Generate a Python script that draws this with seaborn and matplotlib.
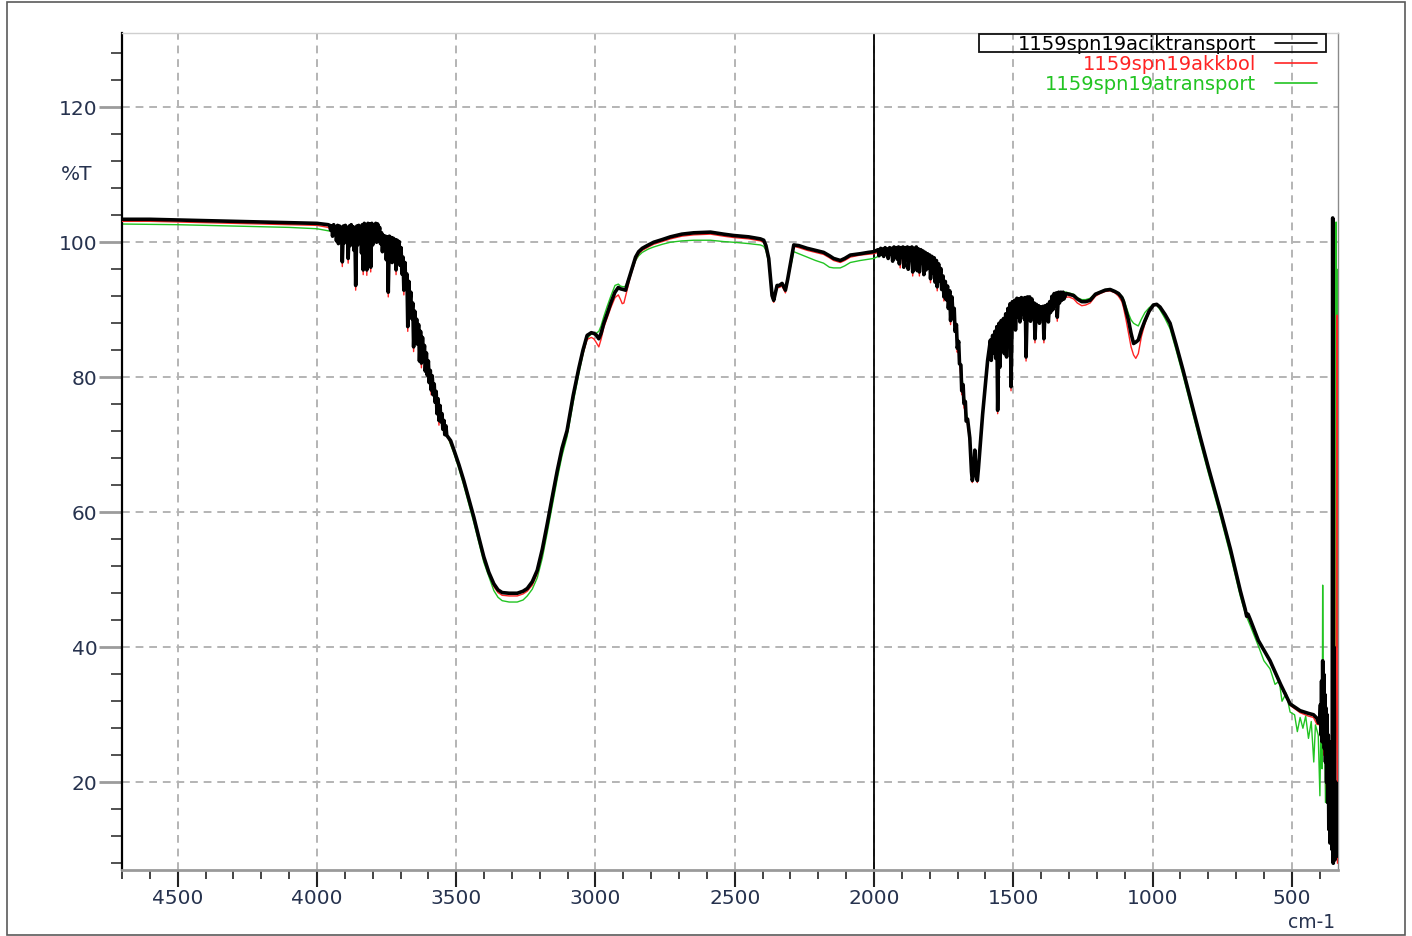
import matplotlib
matplotlib.use("Agg")
import matplotlib.pyplot as plt
import matplotlib.transforms as mtransforms
from matplotlib.lines import Line2D
from matplotlib.patches import Rectangle
from matplotlib.ticker import FixedLocator, MultipleLocator
import pandas as pd
import seaborn as sns

# ---------------------------------------------------------------- data
SERIES_NAMES = ["1159spn19aciktransport", "1159spn19akkbol", "1159spn19atransport"]
X_TICKS = [4500, 4000, 3500, 3000, 2500, 2000, 1500, 1000, 500]
Y_TICKS = [20, 40, 60, 80, 100, 120]

# 1159spn19aciktransport (wavenumber cm-1, %T)
WN_ACIK = [
    4700, 4600, 4500, 4400, 4300, 4200, 4100, 4000, 3960, 3954,
    3951, 3947, 3944, 3940, 3937, 3933, 3930, 3926, 3923, 3919,
    3916, 3912, 3909, 3905, 3902, 3898, 3895, 3891, 3888, 3884,
    3881, 3877, 3874, 3870, 3867, 3864, 3861, 3857, 3854, 3850,
    3847, 3843, 3840, 3837, 3834, 3830, 3827, 3824, 3821, 3817,
    3814, 3810, 3807, 3803, 3800, 3796, 3793, 3789, 3786, 3782,
    3779, 3775, 3772, 3768, 3765, 3761, 3758, 3754, 3751, 3747,
    3744, 3740, 3737, 3733, 3730, 3726, 3723, 3719, 3716, 3712,
    3709, 3705, 3702, 3698, 3695, 3691, 3688, 3684, 3681, 3677,
    3674, 3670, 3667, 3663, 3660, 3656, 3653, 3649, 3646, 3642,
    3639, 3635, 3632, 3628, 3625, 3621, 3618, 3614, 3611, 3607,
    3604, 3600, 3597, 3593, 3590, 3586, 3583, 3579, 3576, 3572,
    3569, 3565, 3562, 3558, 3555, 3551, 3548, 3544, 3541, 3537,
    3534, 3520, 3508, 3490, 3473, 3455, 3437, 3419, 3401, 3383,
    3365, 3350, 3335, 3310, 3281, 3260, 3245, 3227, 3209, 3191,
    3173, 3155, 3137, 3120, 3102, 3080, 3060, 3045, 3030, 3015,
    3006, 2998, 2988, 2980, 2970, 2958, 2945, 2930, 2918, 2910,
    2900, 2892, 2883, 2874, 2865, 2856, 2845, 2832, 2810, 2791,
    2760, 2731, 2690, 2647, 2587, 2540, 2504, 2450, 2408, 2396,
    2388, 2378, 2370, 2366, 2360, 2354, 2348, 2340, 2330, 2318,
    2310, 2303, 2295, 2288, 2270, 2240, 2210, 2181, 2160, 2145,
    2121, 2105, 2085, 2049, 2020, 2001, 1990, 1985, 1982, 1976,
    1973, 1968, 1965, 1960, 1957, 1952, 1949, 1944, 1941, 1936,
    1933, 1928, 1925, 1920, 1917, 1912, 1909, 1904, 1901, 1896,
    1893, 1888, 1885, 1880, 1877, 1872, 1869, 1864, 1861, 1856,
    1853, 1848, 1845, 1840, 1837, 1832, 1829, 1824, 1821, 1816,
    1813, 1808, 1805, 1800, 1797, 1792, 1789, 1784, 1781, 1776,
    1773, 1768, 1765, 1760, 1757, 1752, 1749, 1744, 1741, 1736,
    1733, 1728, 1725, 1720, 1717, 1712, 1709, 1704, 1701, 1696,
    1693, 1688, 1685, 1680, 1677, 1672, 1669, 1664, 1656, 1650,
    1647, 1643, 1638, 1634, 1629, 1625, 1618, 1610, 1600, 1592,
    1582, 1579, 1574, 1571, 1566, 1563, 1559, 1556, 1551, 1548,
    1543, 1540, 1535, 1532, 1527, 1524, 1519, 1516, 1511, 1508,
    1503, 1500, 1495, 1492, 1487, 1484, 1479, 1476, 1471, 1468,
    1463, 1460, 1457, 1454, 1449, 1446, 1441, 1438, 1433, 1430,
    1425, 1422, 1417, 1414, 1409, 1406, 1401, 1398, 1393, 1390,
    1385, 1382, 1377, 1374, 1369, 1366, 1361, 1358, 1353, 1350,
    1345, 1342, 1337, 1334, 1329, 1326, 1321, 1318, 1310, 1300,
    1283, 1270, 1254, 1240, 1224, 1205, 1188, 1170, 1152, 1135,
    1122, 1110, 1104, 1095, 1086, 1077, 1068, 1060, 1051, 1040,
    1027, 1012, 997, 985, 973, 955, 937, 915, 890, 860,
    829, 800, 757, 720, 685, 667, 662, 657, 649, 620,
    578, 540, 506, 470, 440, 422, 410, 404, 400, 397,
    395, 393, 391, 389, 387, 385, 383, 381, 379, 377,
    375, 373, 371, 369, 367, 365, 363, 361, 359, 357,
    355, 353, 351, 348, 345, 342, 339, 337,
]
T_ACIK = [
    103.4, 103.4, 103.3, 103.2, 103.1, 103.0, 102.9, 102.8, 102.6, 102.5,
    101.8, 102.4, 100.9, 102.6, 101.5, 102.3, 100.2, 102.5, 99.8, 102.4,
    100.6, 102.2, 97.1, 102.4, 99.9, 102.5, 100.3, 102.1, 97.6, 102.4,
    99.5, 102.6, 100.4, 102.3, 98.8, 102.0, 93.6, 102.4, 99.6, 102.5,
    100.1, 102.2, 98.4, 102.6, 95.9, 102.8, 99.9, 102.5, 95.9, 102.8,
    100.3, 102.7, 96.3, 102.8, 99.6, 102.6, 100.5, 102.8, 100.0, 102.7,
    100.9, 102.2, 99.8, 101.4, 98.6, 101.0, 99.2, 100.9, 97.4, 100.8,
    92.6, 100.9, 98.3, 100.7, 97.0, 100.6, 98.1, 100.4, 95.9, 100.3,
    97.6, 100.1, 96.6, 99.2, 95.3, 97.8, 92.9, 97.0, 93.6, 95.3,
    87.5, 94.2, 90.8, 92.6, 88.7, 91.0, 84.5, 89.8, 86.2, 88.6,
    84.9, 87.8, 82.4, 86.8, 82.1, 85.9, 82.6, 84.7, 80.9, 83.6,
    80.3, 82.4, 79.2, 81.0, 78.1, 80.2, 77.4, 79.0, 76.3, 77.9,
    74.6, 76.8, 73.6, 75.8, 73.4, 74.6, 72.3, 73.6, 71.5, 72.8,
    71.4, 70.6, 69.2, 67.0, 64.7, 62.0, 59.3, 56.3, 53.4, 51.1,
    49.4, 48.5, 48.1, 48.0, 48.0, 48.3, 48.7, 49.7, 51.4, 54.5,
    58.3, 62.3, 66.2, 69.5, 72.1, 77.3, 81.3, 84.0, 86.2, 86.6,
    86.5, 86.3, 85.7, 86.5, 88.0, 89.4, 91.0, 92.6, 93.3, 93.1,
    93.0, 92.9, 94.2, 95.4, 96.6, 97.8, 98.6, 99.1, 99.6, 100.0,
    100.4, 100.8, 101.2, 101.4, 101.5, 101.2, 101.0, 100.8, 100.5, 100.3,
    99.5, 97.6, 94.0, 92.1, 91.4, 92.5, 93.6, 93.6, 93.9, 92.9,
    94.5, 96.1, 98.0, 99.6, 99.5, 99.1, 98.8, 98.5, 98.0, 97.6,
    97.3, 97.6, 98.1, 98.3, 98.5, 98.6, 98.8, 98.9, 98.0, 99.1,
    98.2, 99.0, 97.9, 99.2, 98.4, 99.0, 97.6, 99.2, 98.3, 99.1,
    97.2, 99.3, 98.1, 99.2, 97.5, 99.3, 96.8, 99.2, 97.9, 99.3,
    96.3, 99.2, 97.4, 99.3, 96.0, 99.2, 97.6, 99.3, 95.6, 99.1,
    97.0, 99.3, 95.8, 99.0, 95.6, 98.9, 96.9, 98.7, 95.2, 98.5,
    95.9, 98.3, 96.2, 98.1, 94.6, 97.9, 95.5, 97.7, 94.1, 97.3,
    93.4, 96.8, 94.3, 96.1, 93.0, 95.0, 91.9, 94.2, 91.5, 93.5,
    90.2, 92.8, 88.4, 91.9, 89.5, 90.2, 86.8, 87.8, 84.3, 85.3,
    82.0, 81.8, 78.0, 78.9, 76.1, 76.4, 73.5, 73.8, 71.0, 66.0,
    64.7, 65.5, 69.2, 66.0, 64.7, 66.5, 70.2, 74.5, 79.0, 82.5,
    85.5, 82.5, 86.2, 83.6, 86.8, 82.8, 87.5, 75.1, 88.0, 81.5,
    88.4, 84.2, 88.7, 83.5, 89.4, 83.0, 90.2, 86.4, 90.9, 78.6,
    91.2, 87.6, 91.4, 87.0, 91.7, 89.0, 91.6, 88.2, 91.8, 89.4,
    91.7, 88.6, 91.8, 83.0, 91.9, 89.0, 91.9, 88.3, 91.6, 89.6,
    91.0, 85.7, 90.8, 88.7, 90.6, 88.0, 90.4, 88.9, 90.5, 85.7,
    90.6, 89.1, 90.8, 88.2, 91.2, 89.6, 92.0, 90.0, 92.4, 90.6,
    92.5, 88.9, 92.6, 91.0, 92.6, 91.4, 92.6, 91.6, 92.4, 92.3,
    92.1, 91.6, 91.2, 91.2, 91.4, 92.3, 92.6, 92.9, 93.0, 92.7,
    92.4, 91.8, 91.2, 89.8, 88.4, 86.5, 85.0, 85.2, 85.5, 87.0,
    88.4, 89.8, 90.7, 90.8, 90.4, 89.3, 88.0, 84.8, 81.0, 76.2,
    71.2, 66.7, 60.3, 54.5, 48.4, 45.6, 44.6, 44.9, 44.1, 41.0,
    38.0, 34.5, 31.6, 30.6, 30.2, 30.0, 29.5, 28.8, 29.0, 31.5,
    27.0, 35.0, 26.0, 38.0, 28.0, 36.0, 25.0, 33.0, 23.0, 31.0,
    20.0, 30.0, 17.0, 27.0, 13.0, 24.0, 11.0, 21.0, 14.0, 26.0,
    10.0, 103.6, 8.0, 40.0, 8.5, 20.0, 9.0, 12.0,
]

# 1159spn19akkbol
WN_AKKBOL = [
    4700, 4600, 4500, 4300, 4100, 4000, 3960,
    3940, 3912, 3909, 3906, 3891, 3888, 3885, 3864, 3861, 3858,
    3837, 3834, 3831, 3824, 3821, 3818, 3810, 3807, 3804, 3780,
    3765, 3750, 3747, 3744, 3741, 3719, 3716, 3713, 3698, 3691,
    3688, 3685, 3677, 3674, 3671, 3656, 3653, 3650, 3628, 3625,
    3622, 3593, 3590, 3587, 3565, 3562, 3559, 3537, 3520,
    3508, 3490, 3473, 3437, 3401, 3365, 3350, 3335, 3310, 3281,
    3260, 3245, 3227, 3209, 3191, 3173, 3155, 3137, 3120, 3102,
    3080, 3060, 3045, 3030, 3015, 3006, 2998, 2988, 2980, 2970,
    2958, 2945, 2930, 2918, 2910, 2904, 2898, 2892, 2883, 2874,
    2865, 2856, 2845, 2832, 2810, 2791, 2760, 2731, 2690, 2647,
    2587, 2540, 2504, 2450, 2408, 2396, 2388, 2378, 2370, 2366,
    2360, 2354, 2348, 2340, 2330, 2318, 2310, 2303, 2295, 2288,
    2270, 2240, 2210, 2181, 2160, 2145, 2121, 2105, 2085, 2049,
    2001, 1985,
    1950, 1909, 1906, 1903, 1864, 1861, 1858, 1840, 1837, 1834,
    1800, 1797, 1794, 1776, 1773, 1770, 1752, 1749, 1746, 1728,
    1725, 1722, 1704, 1701, 1698, 1688, 1685, 1680, 1677, 1672,
    1664, 1656, 1650, 1647, 1643, 1638, 1634, 1629, 1625, 1618,
    1610, 1600, 1588, 1576, 1559, 1556, 1553, 1535, 1511, 1508,
    1505, 1490, 1457, 1454, 1451, 1425, 1422, 1419, 1393, 1390,
    1387, 1361, 1345, 1342, 1339, 1321,
    1300, 1283, 1270, 1254, 1240, 1224, 1205, 1188, 1170, 1152,
    1135, 1122, 1110, 1104, 1095, 1086, 1077, 1068, 1060, 1051,
    1040, 1027, 1012, 997, 985, 973, 955, 937, 915, 890,
    860, 829, 800, 757, 720, 685, 667, 662, 657, 649,
    620, 578, 540, 506, 470, 440, 422, 410, 400,
    395, 390, 385, 380, 375, 370, 365, 360, 355, 350,
    345, 341, 338, 336,
]
T_AKKBOL = [
    103.1, 103.1, 103.0, 102.8, 102.6, 102.5, 102.2,
    101.5, 101.2, 96.4, 101.2, 101.0, 96.9, 101.0, 101.0, 92.9, 101.0,
    101.5, 95.2, 101.5, 101.5, 95.1, 101.5, 101.5, 95.6, 101.5, 101.4,
    100.0, 99.6, 99.0, 91.9, 99.0, 99.2, 95.2, 99.0, 98.0, 96.5,
    92.2, 95.5, 93.5, 86.8, 92.5, 89.5, 83.8, 88.5, 85.0, 81.4,
    84.5, 79.5, 77.4, 79.0, 75.0, 72.9, 74.5, 71.8, 70.2,
    68.9, 66.7, 64.4, 59.0, 53.1, 49.0, 48.1, 47.7, 47.6, 47.6,
    47.9, 48.3, 49.2, 50.9, 54.0, 57.9, 62.0, 65.9, 69.2, 71.8,
    77.0, 81.0, 83.5, 85.6, 85.9, 85.7, 85.2, 84.5, 85.6, 87.4,
    88.8, 90.3, 91.8, 92.2, 91.5, 90.9, 91.0, 92.0, 93.5, 95.0,
    96.2, 97.4, 98.3, 98.8, 99.3, 99.7, 100.1, 100.5, 100.9, 101.1,
    101.2, 100.9, 100.7, 100.5, 100.2, 100.0, 99.2, 97.3, 93.7, 91.8,
    91.1, 92.2, 93.3, 93.3, 93.5, 92.5, 94.2, 95.8, 97.7, 99.4,
    99.2, 98.8, 98.5, 98.2, 97.7, 97.3, 97.0, 97.3, 97.8, 98.1,
    98.3, 98.5,
    98.2, 98.0, 96.2, 98.0, 98.0, 95.0, 97.8, 97.6, 95.0, 97.5,
    96.8, 94.0, 96.6, 95.8, 92.8, 95.5, 93.5, 91.3, 93.0, 91.0,
    87.8, 90.5, 86.0, 83.7, 84.5, 80.0, 77.4, 77.5, 75.5, 75.0,
    73.0, 70.5, 65.7, 64.4, 65.2, 68.9, 65.7, 64.4, 66.2, 69.9,
    74.2, 78.7, 83.0, 84.0, 85.5, 74.6, 85.5, 87.0, 88.5, 78.0,
    88.5, 89.5, 90.0, 82.4, 90.0, 89.5, 85.1, 89.5, 89.0, 85.1,
    89.0, 90.5, 91.0, 88.3, 91.0, 91.8,
    91.9, 91.6, 91.0, 90.6, 90.7, 91.0, 92.0, 92.4, 92.7, 92.8,
    92.5, 92.0, 91.2, 90.3, 88.5, 86.5, 84.5, 83.3, 82.8, 83.5,
    86.0, 88.0, 89.6, 90.6, 90.7, 90.3, 89.2, 87.9, 84.6, 80.8,
    76.0, 71.0, 66.5, 60.1, 54.2, 48.1, 45.8, 44.4, 44.6, 43.9,
    41.0, 37.8, 34.3, 31.4, 30.3, 29.8, 29.6, 28.6, 28.5,
    26.0, 31.0, 24.0, 29.0, 19.0, 24.0, 12.0, 18.0, 10.0, 14.0,
    9.0, 30.0, 89.2, 8.0,
]

# 1159spn19atransport
WN_ATRANSPORT = [
    4700, 4500, 4300, 4100, 4000, 3960, 3900, 3850, 3800, 3770,
    3750, 3720, 3700, 3690, 3675, 3660, 3640, 3620, 3600, 3580,
    3560, 3540, 3520, 3508, 3490, 3473, 3437, 3401, 3365, 3350,
    3335, 3310, 3281, 3260, 3245, 3227, 3209, 3191, 3173, 3155,
    3137, 3120, 3102, 3080, 3060, 3045, 3030, 3015, 3006, 2998,
    2988, 2980, 2970, 2958, 2945, 2930, 2918, 2910, 2900, 2892,
    2883, 2874, 2865, 2856, 2845, 2832, 2810, 2791, 2760, 2731,
    2690, 2647, 2587, 2540, 2504, 2450, 2408, 2396, 2388, 2378,
    2370, 2366, 2360, 2354, 2348, 2340, 2330, 2318, 2310, 2303,
    2295, 2288, 2270, 2240, 2210, 2181, 2160, 2145, 2121, 2105,
    2085, 2049, 2001, 1985, 1950, 1900, 1850, 1800, 1776, 1752,
    1728, 1704, 1688, 1672, 1664, 1656, 1650, 1647, 1643, 1638,
    1634, 1629, 1625, 1618, 1610, 1600, 1588, 1570, 1550, 1530,
    1510, 1490, 1460, 1430, 1400, 1380, 1361, 1340, 1321, 1300,
    1283, 1270, 1254, 1240, 1224, 1205, 1188, 1170, 1152, 1135,
    1122, 1110, 1104, 1095, 1086, 1077, 1068, 1060, 1051, 1040,
    1027, 1012, 997, 985, 973, 955, 937, 915, 890, 860,
    829, 800, 757, 720, 685, 667, 649, 620, 600, 578,
    560, 545, 535, 520, 506, 490, 480, 470, 460, 450,
    440, 430, 421, 415, 405, 399, 395, 391, 389, 386,
    383, 379, 375, 370, 365, 360, 352, 345, 341, 339,
    337, 335,
]
T_ATRANSPORT = [
    102.7, 102.6, 102.4, 102.2, 102.0, 101.7, 101.3, 101.2, 101.4, 101.0,
    99.8, 99.3, 98.6, 96.5, 93.5, 90.0, 86.8, 84.0, 81.2, 78.5,
    75.2, 72.4, 70.0, 68.7, 66.4, 64.0, 58.5, 52.6, 48.4, 47.4,
    46.9, 46.7, 46.7, 47.0, 47.6, 48.6, 50.3, 53.2, 57.0, 61.0,
    65.0, 68.4, 71.2, 76.3, 80.5, 83.4, 85.8, 86.4, 86.6, 86.5,
    86.8, 87.6, 89.0, 90.5, 92.0, 93.6, 93.8, 93.5, 93.4, 93.5,
    94.5, 95.4, 96.3, 97.3, 98.0, 98.5, 99.0, 99.3, 99.7, 100.0,
    100.2, 100.3, 100.3, 100.1, 100.0, 99.8, 99.6, 99.4, 98.8, 97.0,
    93.6, 91.8, 91.2, 92.3, 93.4, 93.4, 93.7, 92.8, 94.3, 95.8,
    97.2, 98.6, 98.3, 97.8, 97.3, 96.9, 96.3, 96.2, 96.2, 96.5,
    97.0, 97.3, 97.6, 97.9, 98.4, 98.6, 98.8, 97.8, 96.6, 94.3,
    92.0, 87.2, 81.2, 75.9, 73.5, 70.8, 66.0, 64.9, 65.7, 69.2,
    66.2, 64.9, 66.7, 70.3, 74.8, 79.2, 83.6, 85.8, 87.6, 88.8,
    90.2, 90.8, 91.0, 90.8, 89.8, 90.0, 91.4, 92.3, 92.7, 92.5,
    92.3, 91.8, 91.5, 91.5, 91.7, 92.4, 92.7, 93.0, 93.0, 92.8,
    92.5, 92.0, 91.6, 90.5, 89.4, 88.5, 88.0, 87.8, 87.6, 88.6,
    89.6, 90.3, 90.8, 90.7, 90.0, 88.7, 87.2, 84.0, 80.2, 75.4,
    70.4, 65.9, 59.5, 53.6, 47.6, 45.0, 43.2, 40.2, 38.0, 36.8,
    34.5, 35.0, 32.0, 33.2, 30.4, 30.0, 27.5, 29.6, 28.0, 29.8,
    26.5, 29.0, 23.0, 28.5, 27.0, 18.0, 30.0, 22.0, 49.2, 25.0,
    35.0, 17.0, 28.0, 20.0, 26.0, 15.0, 25.0, 12.0, 103.0, 60.0,
    96.0, 40.0,
]

# ---------------------------------------------------------------- style
sns.set_style("white")
plt.rcParams["font.family"] = ["DejaVu Sans"]

LABEL_COLOR = "#26324e"
TICK_FONT = 14.5
COLORS = {
    "1159spn19aciktransport": "#000000",
    "1159spn19akkbol": "#ff2424",
    "1159spn19atransport": "#22c422",
}
WIDTHS = {
    "1159spn19aciktransport": 2.6,
    "1159spn19akkbol": 1.0,
    "1159spn19atransport": 1.0,
}

frames = {
    "1159spn19aciktransport": pd.DataFrame({"wn": WN_ACIK, "T": T_ACIK}),
    "1159spn19akkbol": pd.DataFrame({"wn": WN_AKKBOL, "T": T_AKKBOL}),
    "1159spn19atransport": pd.DataFrame({"wn": WN_ATRANSPORT, "T": T_ATRANSPORT}),
}

fig = plt.figure(figsize=(14.12, 9.36), dpi=100)
ax = fig.add_axes([122 / 1412, 66 / 936, 1216 / 1412, 837 / 936])

# grid and the solid reference line at 2000 cm-1
ax.set_axisbelow(True)
ax.grid(True, which="major", color="#b4b4b4", linestyle=(0, (4, 3)), linewidth=1.4)
ax.axvline(2000, color="black", lw=1.3, zorder=1.5)

# draw back to front: green, red, black on top
for order, name in enumerate(reversed(SERIES_NAMES)):
    sns.lineplot(data=frames[name], x="wn", y="T", sort=False, estimator=None,
                 color=COLORS[name], lw=WIDTHS[name], ax=ax, legend=False,
                 zorder=2 + order)

ax.set_xlim(4700, 334)
ax.set_ylim(7, 131)
ax.set_xlabel("")
ax.set_ylabel("")

ax.xaxis.set_major_locator(FixedLocator(X_TICKS))
ax.xaxis.set_minor_locator(MultipleLocator(100))
ax.yaxis.set_major_locator(FixedLocator(Y_TICKS))
ax.yaxis.set_minor_locator(MultipleLocator(4))
ax.set_xticklabels([str(v) for v in X_TICKS])
ax.set_yticklabels([str(v) for v in Y_TICKS])

ax.tick_params(axis="both", which="both", direction="out", bottom=True, left=True,
               top=False, right=False)
ax.tick_params(axis="y", which="major", length=16.5, width=2.0, color="#9c9c9c",
               pad=1.0, labelsize=TICK_FONT, labelcolor=LABEL_COLOR)
ax.tick_params(axis="y", which="minor", length=8, width=1.2, color="#333333")
ax.tick_params(axis="x", which="major", length=12, width=1.5, color="#222222",
               pad=1.5, labelsize=TICK_FONT, labelcolor=LABEL_COLOR)
ax.tick_params(axis="x", which="minor", length=6.5, width=1.2, color="#222222")

for side, color, lw in [("left", "#000000", 1.6), ("bottom", "#9a9a9a", 2.0),
                        ("top", "#cfcfcf", 1.0), ("right", "#8a8a8a", 1.0)]:
    ax.spines[side].set_visible(True)
    ax.spines[side].set_color(color)
    ax.spines[side].set_linewidth(lw)

# axis captions
trans = mtransforms.blended_transform_factory(ax.transAxes, ax.transData)
ax.text(-0.0247, 110, "%T", transform=trans, ha="right", va="center",
        fontsize=TICK_FONT, color=LABEL_COLOR)
ax.text(0.9975, -0.0510, "cm-1", transform=ax.transAxes, ha="right", va="top",
        fontsize=13.5, color=LABEL_COLOR)

# legend: text first, line sample after it
handles = [Line2D([], [], color=COLORS[n], lw=1.2) for n in SERIES_NAMES]
leg = ax.legend(handles, SERIES_NAMES, loc="upper right", bbox_to_anchor=(0.9895, 1.0075),
                frameon=False, markerfirst=False, fontsize=14, handlelength=2.2,
                handletextpad=0.95, labelspacing=0.07, borderpad=0.4, borderaxespad=0)
for text, name in zip(leg.get_texts(), SERIES_NAMES):
    text.set_color(COLORS[name])
ax.add_patch(Rectangle((0.7048, 0.9773), 0.2853, 0.0215, transform=ax.transAxes,
                       fill=False, ec="#111111", lw=1.3, clip_on=False, zorder=6))

# outer frame of the page
fig.add_artist(Rectangle((7 / 1412, 1 / 936), 1398 / 1412, 933 / 936,
                         transform=fig.transFigure, fill=False, ec="#5a5a5a", lw=1.2))

fig.savefig("out.png", dpi=100)
